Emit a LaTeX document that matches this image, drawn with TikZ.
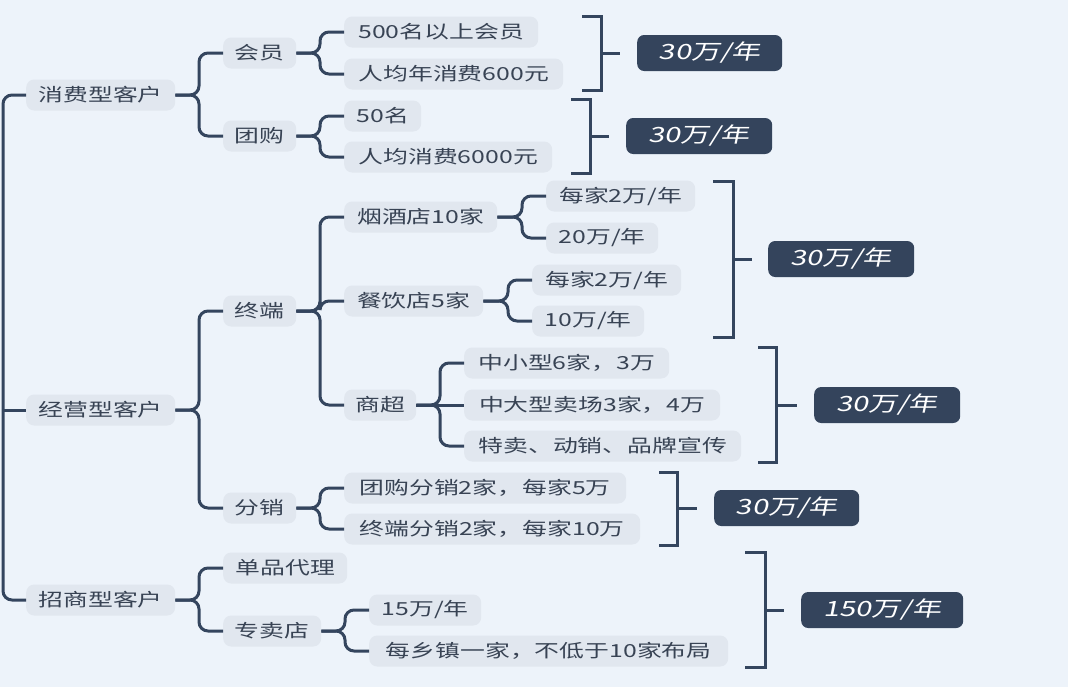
\documentclass[tikz,border=0pt]{standalone}
\usepackage{fontspec}
\newfontfamily\cjkfont[FakeStretch=1.38]{Noto Sans CJK SC}
\newfontfamily\cjksum[FakeStretch=1.38,FakeSlant=0.2]{Noto Sans CJK SC}
\definecolor{bgc}{HTML}{EDF3FA}
\definecolor{boxc}{HTML}{E1E7EF}
\definecolor{txtc}{HTML}{384354}
\definecolor{linec}{HTML}{34455E}
\definecolor{sumc}{HTML}{34445C}
\tikzset{
  box/.style={anchor=west, fill=boxc, rounded corners=8pt, minimum height=31pt,
    inner xsep=10pt, inner ysep=0pt, text=txtc, font=\cjkfont\fontsize{18}{20}\selectfont},
  sumbox/.style={anchor=west, fill=sumc, rounded corners=7pt, minimum height=36pt,
    inner ysep=0pt, text=white, font=\cjksum\fontsize{21}{23}\selectfont},
  conn/.style={draw=linec, line width=3pt, rounded corners=9pt},
  brk/.style={draw=linec, line width=3pt}
}
\newcommand\fork[2]{\draw[conn] (#1.east) -| ([xshift=-24pt]#2.west) -- (#2.west);}
\begin{document}
\begin{tikzpicture}[x=1pt,y=-1pt]
\useasboundingbox (0,0) rectangle (1068,691);
\fill[bgc] (0,0) rectangle (1068,691);
\fill[white] (0,687) rectangle (1068,691);

% level 1
\node[box, minimum width=149pt] (k1) at (26,95) {消费型客户};
\node[box, minimum width=149pt] (k2) at (26,410) {经营型客户};
\node[box, minimum width=149pt] (k3) at (26,600) {招商型客户};
% level 2
\node[box, minimum width=73pt] (a1) at (223,53) {会员};
\node[box, minimum width=73pt] (a2) at (223,136) {团购};
\node[box, minimum width=73pt] (b1) at (223,311) {终端};
\node[box, minimum width=73pt] (b2) at (223,508) {分销};
\node[box, minimum width=124pt] (c1) at (223,568) {单品代理};
\node[box, minimum width=98pt] (c2) at (223,631) {专卖店};
% level 3
\node[box, minimum width=194pt] (a11) at (344,32) {500名以上会员};
\node[box, minimum width=219pt] (a12) at (344,74) {人均年消费600元};
\node[box, minimum width=77pt] (a21) at (344,116) {50名};
\node[box, minimum width=208pt] (a22) at (344,157) {人均消费6000元};
\node[box, minimum width=153pt] (b11) at (344,217) {烟酒店10家};
\node[box, minimum width=139pt] (b12) at (344,301) {餐饮店5家};
\node[box, minimum width=72pt] (b13) at (344,405) {商超};
\node[box, minimum width=282pt] (b21) at (344,488) {团购分销2家，每家5万};
\node[box, minimum width=296pt] (b22) at (344,529) {终端分销2家，每家10万};
\node[box, minimum width=112pt] (c21) at (369,610) {15万/年};
\node[box, minimum width=359pt] (c22) at (369,651) {每乡镇一家，不低于10家布局};
% level 4
\node[box, minimum width=149pt] (d1) at (546,196) {每家2万/年};
\node[box, minimum width=112pt] (d2) at (546,238) {20万/年};
\node[box, minimum width=149pt] (e1) at (532,280) {每家2万/年};
\node[box, minimum width=112pt] (e2) at (532,321) {10万/年};
\node[box, minimum width=205pt] (f1) at (464,363) {中小型6家，3万};
\node[box, minimum width=256pt] (f2) at (464,405) {中大型卖场3家，4万};
\node[box, minimum width=277pt] (f3) at (464,446) {特卖、动销、品牌宣传};
% summaries
\node[sumbox, minimum width=145pt] (s1) at (637,53) {30万/年};
\node[sumbox, minimum width=146pt] (s2) at (626,136) {30万/年};
\node[sumbox, minimum width=146pt] (s3) at (768,259) {30万/年};
\node[sumbox, minimum width=146pt] (s4) at (814,405) {30万/年};
\node[sumbox, minimum width=145pt] (s5) at (714,508) {30万/年};
\node[sumbox, minimum width=162pt] (s6) at (801,610) {150万/年};

% trunk
\coordinate (root) at (3,410);
\draw[conn] (k1.west) -| (root) |- (k3.west);
\draw[conn] (root) -- (k2.west);
% forks
\fork{k1}{a1}\fork{k1}{a2}
\fork{k2}{b1}\fork{k2}{b2}
\fork{k3}{c1}\fork{k3}{c2}
\fork{a1}{a11}\fork{a1}{a12}
\fork{a2}{a21}\fork{a2}{a22}
\fork{b1}{b11}\fork{b1}{b12}\fork{b1}{b13}
\fork{b2}{b21}\fork{b2}{b22}
\fork{c2}{c21}\fork{c2}{c22}
\fork{b11}{d1}\fork{b11}{d2}
\fork{b12}{e1}\fork{b12}{e2}
\fork{b13}{f1}\draw[conn] (b13.east) -- (f2.west);\fork{b13}{f3}

% summary brackets
\draw[brk] (582,16) -- (601,16) -- (601,90) -- (582,90);
\coordinate (m1) at (601,53);
\draw[brk] (m1) -- ([xshift=-17pt]s1.west);
\draw[brk] (571,99) -- (590,99) -- (590,173) -- (571,173);
\coordinate (m2) at (590,136);
\draw[brk] (m2) -- ([xshift=-17pt]s2.west);
\draw[brk] (713,181) -- (733,181) -- (733,337) -- (713,337);
\coordinate (m3) at (733,259);
\draw[brk] (m3) -- ([xshift=-16pt]s3.west);
\draw[brk] (758,347) -- (776,347) -- (776,462) -- (758,462);
\coordinate (m4) at (776,405);
\draw[brk] (m4) -- ([xshift=-17pt]s4.west);
\draw[brk] (659,472) -- (677,472) -- (677,545) -- (659,545);
\coordinate (m5) at (677,508);
\draw[brk] (m5) -- ([xshift=-17pt]s5.west);
\draw[brk] (745,552) -- (765,552) -- (765,667) -- (745,667);
\coordinate (m6) at (765,610);
\draw[brk] (m6) -- ([xshift=-17pt]s6.west);
\end{tikzpicture}
\end{document}
